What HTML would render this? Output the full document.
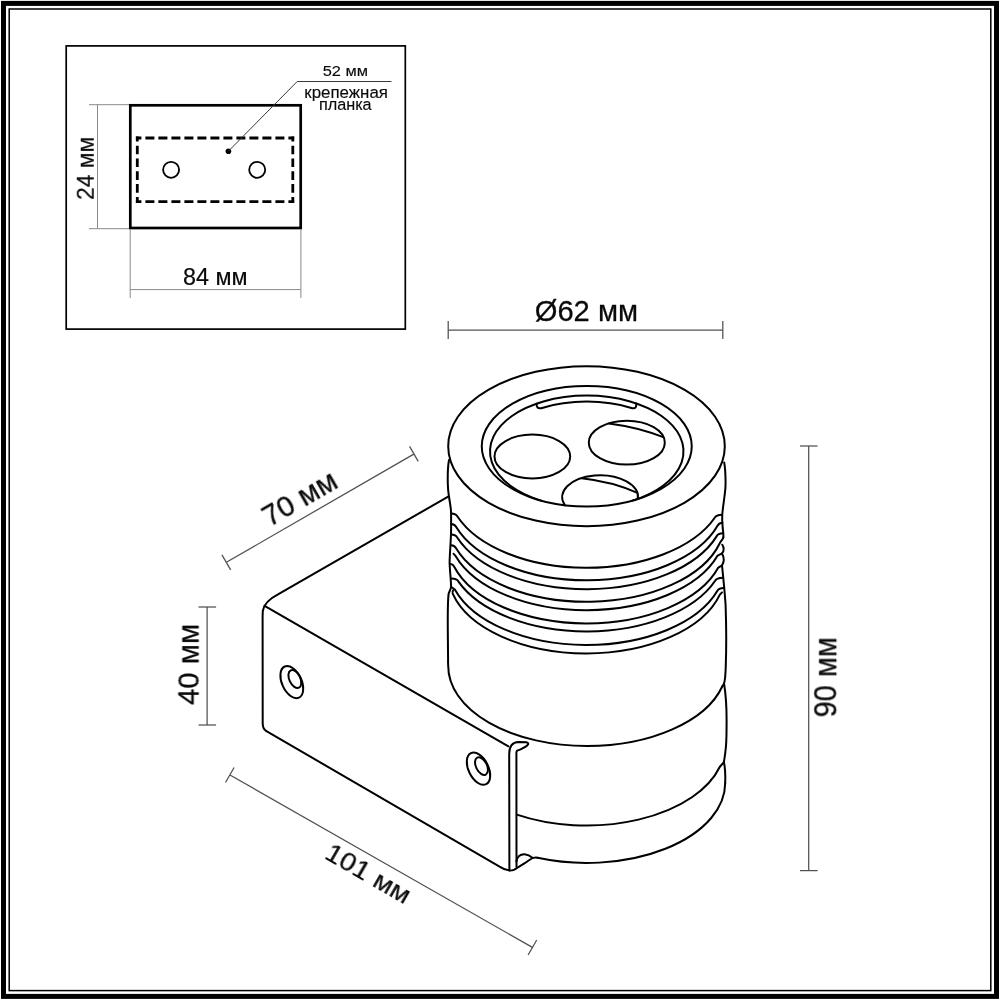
<!DOCTYPE html>
<html lang="ru"><head><meta charset="utf-8"><title>Размеры</title>
<style>
html,body{margin:0;padding:0;background:#fff;}
body{width:1000px;height:1000px;overflow:hidden;}
svg{display:block;}
text{font-family:"Liberation Sans",sans-serif;fill:#0a0a0a;stroke:#0a0a0a;stroke-linejoin:round;}
.k{fill:none;stroke:#000;stroke-width:2;stroke-linecap:round;stroke-linejoin:round;}
.d{fill:none;stroke:#505050;stroke-width:1.25;}
.g{fill:none;stroke:#8a8a8a;stroke-width:1;}
</style></head><body>
<svg width="1000" height="1000" viewBox="0 0 1000 1000">
<rect x="0" y="0" width="1000" height="1000" fill="#fff"/>
<!-- frame -->
<rect x="3.5" y="3.4" width="993" height="993" fill="none" stroke="#000" stroke-width="5"/>
<rect x="9.2" y="9" width="981.6" height="981.6" fill="none" stroke="#000" stroke-width="1.5"/>

<!-- inset -->
<rect x="66.2" y="45.9" width="339.1" height="283.2" fill="none" stroke="#000" stroke-width="1.7"/>
<rect x="130.3" y="105.3" width="170.4" height="122.7" fill="none" stroke="#000" stroke-width="2.7"/>
<g stroke="#000" stroke-width="2.8" fill="none">
<line x1="135.9" y1="138" x2="294.2" y2="138" stroke-dasharray="9 4" stroke-dashoffset="3.5"/>
<line x1="135.9" y1="201.7" x2="294.2" y2="201.7" stroke-dasharray="9 4" stroke-dashoffset="3.5"/>
<line x1="137.3" y1="136.6" x2="137.3" y2="203.1" stroke-dasharray="8.6 4.2" stroke-dashoffset="3.7"/>
<line x1="292.8" y1="136.6" x2="292.8" y2="203.1" stroke-dasharray="8.6 4.2" stroke-dashoffset="3.7"/>
</g>
<circle cx="171.1" cy="169.8" r="8" fill="none" stroke="#000" stroke-width="1.8"/>
<circle cx="257.2" cy="169.8" r="8" fill="none" stroke="#000" stroke-width="1.8"/>
<circle cx="228.4" cy="151.2" r="2.8" fill="#000"/>
<polyline points="228.4,151.2 297.2,81.5 391.5,81.5" fill="none" stroke="#3a3a3a" stroke-width="1"/>
<g class="g">
<line x1="97.5" y1="104.7" x2="97.5" y2="228.7"/>
<line x1="89" y1="104.7" x2="129" y2="104.7"/>
<line x1="89" y1="228.7" x2="129" y2="228.7"/>
<line x1="130.2" y1="229" x2="130.2" y2="298"/>
<line x1="300.9" y1="229" x2="300.9" y2="298"/>
<line x1="130.2" y1="289.6" x2="300.9" y2="289.6"/>
</g>

<!-- dimensions -->
<g class="d">
<line x1="448.2" y1="330.1" x2="722.8" y2="330.1"/><line x1="448.2" y1="320.9" x2="448.2" y2="339"/><line x1="722.8" y1="320.9" x2="722.8" y2="339"/>
<line x1="808.7" y1="446" x2="808.7" y2="870.6"/><line x1="800" y1="446" x2="817.6" y2="446"/><line x1="800" y1="870.6" x2="817.6" y2="870.6"/>
<line x1="207.1" y1="607" x2="207.1" y2="725"/><line x1="198.5" y1="607" x2="216.1" y2="607"/><line x1="198.5" y1="725" x2="216.1" y2="725"/>
<line x1="226.4" y1="562.3" x2="413.8" y2="454.1"/><line x1="221.95" y1="554.87" x2="230.65" y2="569.93"/><line x1="409.55" y1="446.37" x2="418.25" y2="461.43"/>
<line x1="230" y1="775" x2="532.4" y2="947.4"/><line x1="234.11" y1="767.44" x2="225.49" y2="782.56"/><line x1="536.71" y1="939.94" x2="528.09" y2="955.06"/>
</g>
<g opacity="0.999">
<text transform="translate(322.69 75.8) rotate(0) scale(1.1085 1)" font-size="14.8" stroke-width="0.13">52 мм</text>
<text transform="translate(304.29 98.1) rotate(0) scale(1.0836 1)" font-size="15.6" stroke-width="0.14">крепежная</text>
<text transform="translate(318.91 109.7) rotate(0) scale(1.0413 1)" font-size="15.6" stroke-width="0.14">планка</text>
<text transform="translate(182.99 285) rotate(0) scale(1.0140 1)" font-size="23" stroke-width="0.21">84 мм</text>
<text transform="translate(534.75 321) rotate(0) scale(1.0050 1)" font-size="29" stroke-width="0.26">Ø62 мм</text>
<text transform="translate(93.75 199.97) rotate(-90) scale(0.9851 1)" font-size="23.2" stroke-width="0.21">24 мм</text>
<text transform="translate(836.25 717.43) rotate(-90) scale(0.9518 1)" font-size="30.5" stroke-width="0.27">90 мм</text>
<text transform="translate(198.5 704.99) rotate(-90) scale(1.0005 1)" font-size="29.3" stroke-width="0.26">40 мм</text>
<text transform="translate(269.36 527.2) rotate(-30) scale(1.0275 1)" font-size="28.6" stroke-width="0.26">70 мм</text>
<text transform="translate(323.31 857.78) rotate(30) scale(1.0969 1)" font-size="25.8" stroke-width="0.23">101 мм</text>
</g>
<!-- lamp -->
<g class="k">
<ellipse cx="586.5" cy="446.2" rx="138.3" ry="80"/>
<ellipse cx="586.75" cy="446.3" rx="105" ry="60.3"/>
<path d="M 541.25 500.65 A 96.75 55.8 0 1 1 632.25 500.65"/>
<path d="M 536.6 403.68 Q 536.1 409.18 541.2 408.17 A 96.75 55.8 0 0 1 632.3 408.17 Q 637 408.94 636.2 403.44"/>
<ellipse cx="532.35" cy="456.5" rx="37.85" ry="21.9"/>
<ellipse cx="626.8" cy="442.7" rx="38" ry="21.9"/>
<path d="M 609 423.4 Q 640 427.5 663.2 437.2"/>
<path d="M 564.94 505.28 A 37.9 21.9 0 1 1 637.86 498.97"/>
<path d="M 581.6 478.2 Q 612 481.5 637.4 492.8"/>
<path d="M 449 460 C 447.2 470 447.4 488 449 496.5 C 450 504 451.1 508 451.1 513.2 L 451.1 530 C 451 540 449.6 556 449.6 563 C 449.8 570 451 580 451.1 587 C 450.4 590.5 449 592 448.6 594 C 447.8 600 447.7 615 447.8 630 L 448.1 662"/>
<path d="M 724.2 462.5 C 725.6 470 726 486 725 492 C 724.4 498 722.8 508 722.3 514 C 721.9 519 722.3 524 722.7 528 C 723.2 531.5 723.7 535 723.3 537.6"/>
<path d="M 722.3 544.7 Q 725.3 549.5 722 553.4 Q 725.5 559.5 722 565.4 C 723 575 724.6 590 725.6 605 C 726.2 622 726.4 650 725.7 668 C 725.4 676 725 680 724.3 682.5 Q 723.6 685 722.23 686.5"/>
<path d="M 724.2 684.3 C 725.4 692 726.6 705 726.6 720 C 726.6 732 726.5 740 726 746 C 725.4 753 724.6 758 723.9 762.2 C 725 767 725.5 775 725.2 783"/>
<path d="M 451.1 513.5 Q 456.07 513.7 457.27 516.3 A 138.3 80 0 0 0 714.92 517.5 Q 716.12 514.9 722.1 514.7"/>
<path d="M 451.1 524 Q 454.81 524.2 456.01 526.8 A 138.3 80 0 0 0 717.7 525.6 Q 718.9 523 722.4 522.8"/>
<path d="M 451.1 534.5 Q 455.81 534.7 457.01 537.3 A 138.3 80 0 0 0 716.75 536.1 Q 717.95 533.5 722.9 533.3"/>
<path d="M 451.1 545.3 Q 454.69 545.5 455.89 548.1 A 138.3 80 0 0 0 719.76 543.2 C 720.66 541.2 723 539.4 723.3 537.6"/>
<path d="M 453.5 553.7 L 455.71 556.2 A 138.3 80 0 0 0 717.64 555.6 L 722 553.4"/>
<path d="M 450.8 563.9 Q 453 564.1 454.2 566.7 A 138.3 80 0 0 0 718.32 567.6 L 722 565.4"/>
<path d="M 451.4 578.6 Q 457.09 578.8 458.29 581.4 A 138.3 80 0 0 0 715.33 580.5 Q 716.53 577.9 722.9 577.7"/>
<path d="M 451.3 587 L 454.85 589.5 A 138.3 80 0 0 0 717.41 590.8 Q 718.61 588.2 723.6 588"/>
<path d="M 453.5 590 Q 451.78 591.6 452.68 593.6 A 138.3 80 0 0 0 719.86 594.6 L 722 592.4"/>
<path d="M 448.1 662 Q 448.1 664 448.2 666 A 138.9 80 0 0 0 587.1 746 A 139.8 80 0 0 0 722.23 686.5"/>
<path d="M 516.8 814.6 A 138.3 80 0 0 0 719.71 767 L 723.9 762.2"/>
<path d="M 537.6 857.83 A 138.7 80 0 0 0 725.2 783"/>
<path d="M 448.6 496.3 L 278 594.4 C 270 598.5 264 603 262.8 611 L 262.6 616.4 L 262.7 723.6 Q 262.8 729 266 730.8 L 500 866.9 Q 505 870.2 509.6 870.6 Q 512.5 870.6 514.4 869.6 C 519 866.5 526 862.5 529 860.2 C 531.5 858.3 534.4 857.1 537.6 857.83"/>
<path d="M 264.6 605.8 L 508.4 746.3"/>
<path d="M 509.4 870.4 L 509.2 754 C 509.2 746.5 512 742.2 518.5 741.9 L 526.2 742.2 Q 529.6 743.2 527.4 745.2 C 524.5 748 520 749.6 517.2 750.6 Q 516.3 751.2 516.4 753 L 516.5 866.8"/>
<path d="M 516.4 861.5 C 517.5 855.5 521 854.2 524.6 854.3 Q 529 854.8 532.4 857.8"/>
</g>
<g class="k" stroke-width="1.7">
<ellipse cx="291.8" cy="682.1" rx="17.14" ry="9.78" transform="rotate(-114.63 291.8 682.1)"/>
<ellipse cx="294.85" cy="679.05" rx="9.57" ry="5.48" transform="rotate(-115.64 294.85 679.05)"/>
<ellipse cx="478.5" cy="768.7" rx="17.26" ry="9.91" transform="rotate(-116.13 478.5 768.7)"/>
<ellipse cx="481.5" cy="766.1" rx="9.48" ry="5.46" transform="rotate(-117.1 481.5 766.1)"/>
</g>
</svg></body></html>
